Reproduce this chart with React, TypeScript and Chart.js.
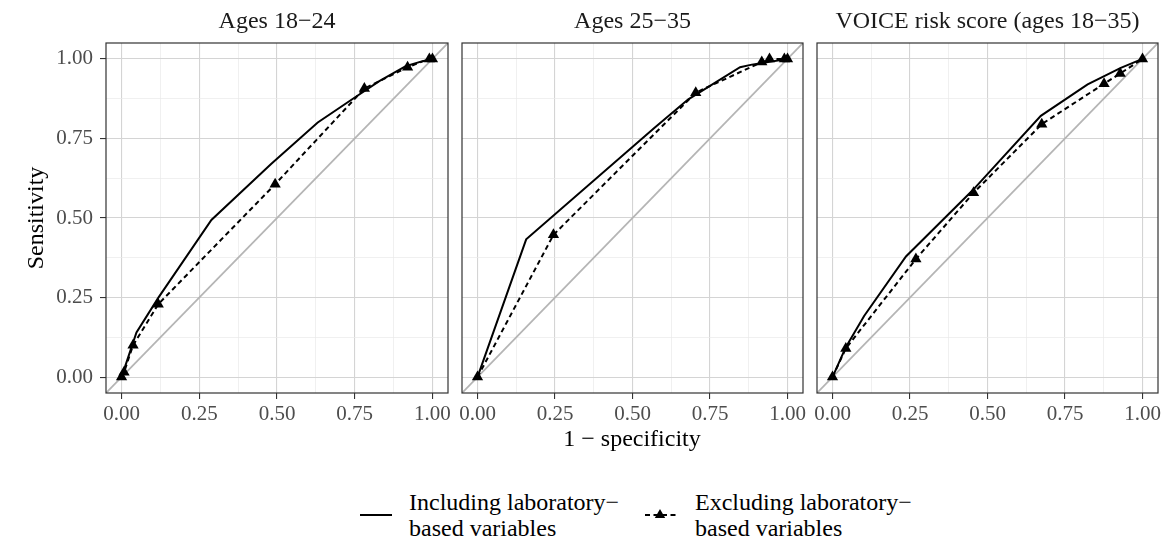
import React, { useEffect, useRef } from "react";
import { Chart, registerables } from "chart.js";

Chart.register(...registerables);

// ---- axis ticks ----
const GRID_TICKS = [0, 0.125, 0.25, 0.375, 0.5, 0.625, 0.75, 0.875, 1];
const MAJOR_TICKS = [0, 0.25, 0.5, 0.75, 1];
const TICK_LABELS = ["0.00", "0.25", "0.50", "0.75", "1.00"];
const AXIS_RANGE = [-0.05, 1.05];

// ---- panel titles ----
const PANEL_TITLES = ["Ages 18\u221224", "Ages 25\u221235", "VOICE risk score (ages 18\u221235)"];

// ---- reference (chance) line ----
const CHANCE_X = [-0.05, 1.05];
const CHANCE_Y = [-0.05, 1.05];

// ---- Panel 1: ages 18-24 ----
const INCL_1_X = [0, 0.048, 0.118, 0.289, 0.481, 0.631, 0.749, 0.829, 0.914, 0.968, 1];
const INCL_1_Y = [0, 0.14, 0.249, 0.494, 0.67, 0.8, 0.878, 0.93, 0.977, 0.993, 1];
const EXCL_1_X = [0, 0.008, 0.037, 0.118, 0.494, 0.781, 0.92, 0.99, 1];
const EXCL_1_Y = [0, 0.015, 0.1, 0.229, 0.606, 0.907, 0.974, 1.0, 1];

// ---- Panel 2: ages 25-35 ----
const INCL_2_X = [0, 0.157, 0.573, 0.68, 0.847, 0.885, 1];
const INCL_2_Y = [0, 0.433, 0.785, 0.873, 0.974, 0.982, 1];
const EXCL_2_X = [0, 0.245, 0.704, 0.917, 0.942, 0.99, 1];
const EXCL_2_Y = [0, 0.447, 0.894, 0.99, 1.0, 1.0, 1];

// ---- Panel 3: VOICE risk score ----
const INCL_3_X = [0, 0.043, 0.102, 0.237, 0.452, 0.672, 0.823, 0.93, 1];
const INCL_3_Y = [0, 0.094, 0.192, 0.379, 0.587, 0.821, 0.92, 0.972, 1];
const EXCL_3_X = [0, 0.043, 0.269, 0.455, 0.675, 0.876, 0.928, 1];
const EXCL_3_Y = [0, 0.09, 0.371, 0.579, 0.795, 0.922, 0.954, 1];

const X_TITLE = "1 \u2212 specificity";
const Y_TITLE = "Sensitivity";
const LEGEND_INCL = ["Including laboratory\u2212", "based variables"];
const LEGEND_EXCL = ["Excluding laboratory\u2212", "based variables"];

const FONT = "'Liberation Serif', 'Times New Roman', Times, serif";

const isMajor = (v: number) => MAJOR_TICKS.some((m) => Math.abs(m - v) < 1e-9);
const fmt = (v: number) => {
  const i = MAJOR_TICKS.findIndex((m) => Math.abs(m - v) < 1e-9);
  return i >= 0 ? TICK_LABELS[i] : "";
};
const pts = (xs: number[], ys: number[]) => xs.map((x, i) => ({ x, y: ys[i] }));

type PanelProps = {
  idx: number;
  left: number;
  width: number;
  padL: number;
  padR: number;
  showY: boolean;
  inclX: number[];
  inclY: number[];
  exclX: number[];
  exclY: number[];
};

const CANVAS_H = 425;

function Panel(p: PanelProps) {
  const ref = useRef<HTMLCanvasElement | null>(null);
  useEffect(() => {
    if (!ref.current) return;
    const title = PANEL_TITLES[p.idx];
    const decor = {
      id: "panelDecor" + p.idx,
      afterDraw(chart: any) {
        const { ctx, chartArea: a } = chart;
        ctx.save();
        ctx.strokeStyle = "#333333";
        ctx.lineWidth = 1.2;
        ctx.strokeRect(a.left, a.top, a.right - a.left, a.bottom - a.top);
        ctx.fillStyle = "#1a1a1a";
        ctx.font = `24px ${FONT}`;
        ctx.textAlign = "center";
        ctx.textBaseline = "alphabetic";
        ctx.fillText(title, (a.left + a.right) / 2, 28);
        if (p.showY) {
          ctx.translate(43, (a.top + a.bottom) / 2);
          ctx.rotate(-Math.PI / 2);
          ctx.fillStyle = "#000";
          ctx.fillText(Y_TITLE, 0, 0);
        }
        ctx.restore();
      },
    };
    const grid = {
      color: (c: any) => (c.tick && isMajor(c.tick.value) ? "#d4d4d4" : "#eaeaea"),
      lineWidth: (c: any) => (c.tick && isMajor(c.tick.value) ? 1.1 : 0.7),
      tickColor: (c: any) => (c.tick && isMajor(c.tick.value) ? "#333333" : "rgba(0,0,0,0)"),
      tickWidth: 1.1,
      tickLength: 6,
    };
    const tickFont = { family: FONT, size: 21 };
    const chart = new Chart(ref.current, {
      type: "scatter",
      data: {
        datasets: [
          {
            label: "Including laboratory-based variables",
            data: pts(p.inclX, p.inclY),
            showLine: true,
            borderColor: "#000",
            backgroundColor: "#000",
            borderWidth: 2,
            pointRadius: 0,
            order: 2,
          },
          {
            label: "Excluding laboratory-based variables (line)",
            data: pts(p.exclX, p.exclY),
            showLine: true,
            borderColor: "#000",
            backgroundColor: "#000",
            borderWidth: 2,
            borderDash: [5, 3.5],
            pointRadius: 0,
            order: 3,
          },
          {
            label: "Excluding laboratory-based variables",
            data: pts(p.exclX, p.exclY),
            showLine: false,
            pointStyle: "triangle",
            pointRadius: 6.5,
            backgroundColor: "#000",
            borderColor: "#000",
            borderWidth: 0,
            order: 1,
          },
          {
            label: "Chance",
            data: pts(CHANCE_X, CHANCE_Y),
            showLine: true,
            borderColor: "#b5b5b5",
            borderWidth: 1.8,
            pointRadius: 0,
            order: 4,
          },
        ] as any,
      },
      options: {
        animation: false,
        responsive: false,
        layout: { padding: { top: 43, left: p.padL, right: p.padR, bottom: 0 } },
        plugins: { legend: { display: false }, tooltip: { enabled: false } },
        events: [],
        scales: {
          x: {
            type: "linear",
            min: AXIS_RANGE[0],
            max: AXIS_RANGE[1],
            afterBuildTicks: (s: any) => {
              s.ticks = GRID_TICKS.map((v) => ({ value: v }));
            },
            afterFit: (s: any) => {
              s.height = 32;
              s.paddingLeft = 0;
              s.paddingRight = 0;
            },
            ticks: {
              autoSkip: false,
              maxRotation: 0,
              minRotation: 0,
              padding: 3,
              color: "#4d4d4d",
              font: tickFont,
              callback: (v: any) => fmt(Number(v)),
            },
            grid,
            border: { display: false },
          },
          y: {
            type: "linear",
            min: AXIS_RANGE[0],
            max: AXIS_RANGE[1],
            afterBuildTicks: (s: any) => {
              s.ticks = GRID_TICKS.map((v) => ({ value: v }));
            },
            afterFit: (s: any) => {
              s.width = p.showY ? 106 : 0;
              s.paddingTop = 0;
              s.paddingBottom = 0;
            },
            ticks: {
              display: p.showY,
              autoSkip: false,
              padding: 7,
              color: "#4d4d4d",
              font: tickFont,
              callback: (v: any) => fmt(Number(v)),
            },
            grid: { ...grid, drawTicks: p.showY },
            border: { display: false },
          },
        },
      } as any,
      plugins: [decor],
    });
    return () => chart.destroy();
  }, []);
  return (
    <div style={{ position: "absolute", left: p.left, top: 0, width: p.width, height: CANVAS_H }}>
      <canvas ref={ref} width={p.width} height={CANVAS_H} style={{ width: p.width, height: CANVAS_H }} />
    </div>
  );
}

function LegendKey({ dashed }: { dashed: boolean }) {
  return (
    <svg width={34} height={20} style={{ display: "block" }}>
      <line
        x1={1}
        y1={10}
        x2={33}
        y2={10}
        stroke="#000"
        strokeWidth={2}
        strokeDasharray={dashed ? "5 3.5" : undefined}
      />
      {dashed && <polygon points="16,4 21.2,13 10.8,13" fill="#000" />}
    </svg>
  );
}

export default function App() {
  const textStyle: React.CSSProperties = {
    position: "absolute",
    fontFamily: FONT,
    fontSize: 24,
    lineHeight: "26px",
    color: "#000",
    whiteSpace: "nowrap",
  };
  return (
    <div
      style={{
        position: "fixed",
        left: 0,
        top: 0,
        width: 1176,
        height: 540,
        background: "#fff",
        overflow: "hidden",
      }}
    >
      <Panel idx={0} left={0} width={470} padL={0} padR={22} showY={true} inclX={INCL_1_X} inclY={INCL_1_Y} exclX={EXCL_1_X} exclY={EXCL_1_Y} />
      <Panel idx={1} left={440} width={380} padL={22} padR={17} showY={false} inclX={INCL_2_X} inclY={INCL_2_Y} exclX={EXCL_2_X} exclY={EXCL_2_Y} />
      <Panel idx={2} left={795} width={381} padL={22} padR={18} showY={false} inclX={INCL_3_X} inclY={INCL_3_Y} exclX={EXCL_3_X} exclY={EXCL_3_Y} />

      <div style={{ ...textStyle, left: 332, width: 600, top: 424, lineHeight: "28px", textAlign: "center" }}>{X_TITLE}</div>

      <div style={{ position: "absolute", left: 359, top: 505 }}>
        <LegendKey dashed={false} />
      </div>
      <div style={{ ...textStyle, left: 409, top: 489 }}>
        {LEGEND_INCL[0]}
        <br />
        {LEGEND_INCL[1]}
      </div>
      <div style={{ position: "absolute", left: 644, top: 505 }}>
        <LegendKey dashed={true} />
      </div>
      <div style={{ ...textStyle, left: 695, top: 489 }}>
        {LEGEND_EXCL[0]}
        <br />
        {LEGEND_EXCL[1]}
      </div>
    </div>
  );
}
